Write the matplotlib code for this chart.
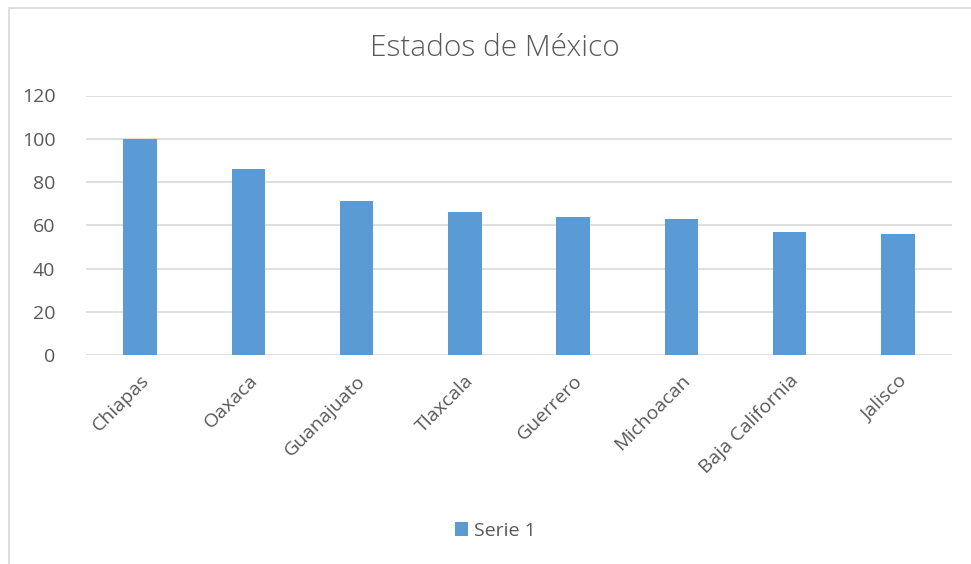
import matplotlib.pyplot as plt
from matplotlib.patches import Rectangle

estados = ["Chiapas", "Oaxaca", "Guanajuato", "Tlaxcala", "Guerrero",
           "Michoacan", "Baja California", "Jalisco"]
valores = [100, 86, 71, 66, 64, 63, 57, 56]
y_ticks = [0, 20, 40, 60, 80, 100, 120]

azul = "#5b9bd5"
gris_texto = "#595959"
gris_linea = "#d9d9d9"

plt.rcParams["font.family"] = ["Open Sans", "DejaVu Sans"]

fig = plt.figure(figsize=(9.71, 5.64), dpi=100)
ax = fig.add_axes([86 / 971, 1 - 355 / 564, (952 - 86) / 971, (355 - 95.5) / 564])

# chart frame
fig.patches.append(Rectangle((9 / 971, -0.1), 1.0, 1 - 8 / 564 + 0.1,
                             transform=fig.transFigure, fill=False,
                             edgecolor=gris_linea, linewidth=1.2))

x = range(len(estados))
ax.bar(x, valores, width=0.31, color=azul, label="Serie 1", zorder=3)

ax.set_xlim(-0.5, len(estados) - 0.5)
ax.set_ylim(0, 120)
ax.set_yticks(y_ticks)
ax.set_xticks(list(x))
ax.set_xticklabels(estados, rotation=45, ha="right", rotation_mode="anchor")
ax.tick_params(axis="both", length=0, labelsize=14, colors=gris_texto)
ax.tick_params(axis="y", pad=22)
ax.tick_params(axis="x", pad=12)
ax.grid(axis="y", color=gris_linea, linewidth=1.2, zorder=0)
for s in ax.spines.values():
    s.set_visible(False)

fig.text(0.51, 1 - 48 / 564, "Estados de México", ha="center", va="center",
         fontsize=21.5, color=gris_texto, fontweight="light")

fig.legend(loc="center", bbox_to_anchor=(0.51, 1 - 531 / 564), frameon=False,
           fontsize=14, labelcolor=gris_texto, handlelength=0.7, handleheight=0.7,
           handletextpad=0.3)

fig.savefig("out.png", dpi=100)
